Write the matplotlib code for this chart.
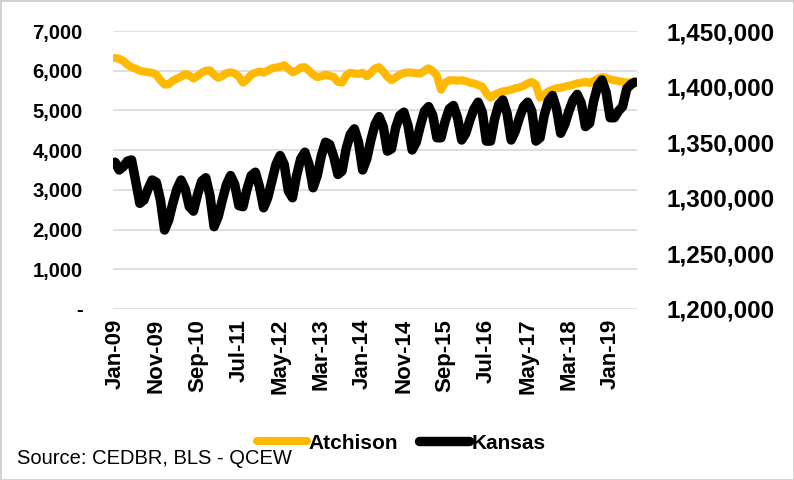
import numpy as np
import pandas as pd
import matplotlib.pyplot as plt
from matplotlib.ticker import FuncFormatter

plt.rcParams['font.family'] = ['Liberation Sans', 'DejaVu Sans']

# Monthly covered employment, Jan 2009 - Jul 2019
months = pd.date_range('2009-01-01', periods=127, freq='MS')

atchison = [
    6320, 6300, 6250, 6150, 6090, 6050, 6000, 5980, 5960, 5950, 5900, 5760,
    5650, 5660, 5750, 5800, 5850, 5920, 5880, 5800, 5870, 5950, 6000, 6010,
    5900, 5820, 5870, 5940, 5960, 5930, 5850, 5700, 5780, 5900, 5950, 5980,
    5950, 6000, 6060, 6080, 6100, 6140, 6050, 5960, 6000, 6080, 6090, 6000,
    5900, 5840, 5860, 5900, 5870, 5840, 5720, 5700, 5880, 5950, 5930, 5920,
    5950, 5860, 5950, 6060, 6090, 5980, 5850, 5760, 5830, 5900, 5940, 5960,
    5950, 5940, 5930, 6000, 6060, 5990, 5880, 5520, 5700, 5760, 5760, 5750,
    5760, 5740, 5700, 5680, 5640, 5600, 5430, 5320, 5400, 5440, 5480, 5500,
    5520, 5560, 5580, 5620, 5680, 5720, 5650, 5320, 5400, 5480, 5520, 5560,
    5570, 5600, 5620, 5650, 5680, 5700, 5720, 5690, 5740, 5800, 5840, 5820,
    5780, 5760, 5740, 5720, 5700, 5710, 5720,
]

kansas = [
    1332000, 1325000, 1328000, 1333000, 1334000, 1315000, 1295000, 1298000, 1308000, 1316000, 1314000, 1298000,
    1271000, 1280000, 1295000, 1308000, 1316000, 1308000, 1292000, 1288000, 1303000, 1315000, 1318000, 1302000,
    1274000, 1283000, 1298000, 1312000, 1320000, 1312000, 1293000, 1292000, 1308000, 1320000, 1323000, 1310000,
    1291000, 1300000, 1315000, 1330000, 1338000, 1330000, 1306000, 1300000, 1320000, 1335000, 1341000, 1330000,
    1309000, 1320000, 1338000, 1350000, 1348000, 1337000, 1321000, 1324000, 1344000, 1357000, 1362000, 1350000,
    1325000, 1335000, 1352000, 1366000, 1373000, 1364000, 1342000, 1344000, 1363000, 1374000, 1377000, 1365000,
    1343000, 1350000, 1365000, 1378000, 1382000, 1374000, 1354000, 1354000, 1369000, 1380000, 1383000, 1372000,
    1352000, 1358000, 1370000, 1380000, 1386000, 1377000, 1351000, 1351000, 1371000, 1384000, 1388000, 1376000,
    1352000, 1360000, 1372000, 1382000, 1386000, 1378000, 1351000, 1354000, 1374000, 1387000, 1392000, 1380000,
    1358000, 1366000, 1378000, 1388000, 1393000, 1385000, 1364000, 1367000, 1387000, 1401000, 1406000, 1395000,
    1372000, 1372000, 1378000, 1382000, 1398000, 1402000, 1404000,
]

left_ticks = [0, 1000, 2000, 3000, 4000, 5000, 6000, 7000]
right_ticks = [1200000, 1250000, 1300000, 1350000, 1400000, 1450000]
tick_step = 10

x = np.arange(len(months))

fig = plt.figure(figsize=(7.94, 4.8), dpi=100)
ax = fig.add_axes([0.1423, 0.3563, 0.66, 0.5791])
ax2 = ax.twinx()

ax.plot(x, atchison, color='#FFB900', lw=5.8, solid_capstyle='round',
        solid_joinstyle='round', label='Atchison')
ax2.plot(x, kansas, color='black', lw=6.8, solid_capstyle='round',
         solid_joinstyle='round', label='Kansas')

ax.set_xlim(-0.5, len(months) - 0.5)
ax.set_ylim(0, 7000)
ax2.set_ylim(1200000, 1450000)

ax.set_yticks(left_ticks)
ax.yaxis.set_major_formatter(FuncFormatter(lambda v, p: '-' if v == 0 else f'{int(v):,}'))
ax2.set_yticks(right_ticks)
ax2.yaxis.set_major_formatter(FuncFormatter(lambda v, p: f'{int(v):,}'))

ax.set_xticks(x[::tick_step])
ax.set_xticklabels([d.strftime('%b-%y') for d in months[::tick_step]],
                   rotation=90, fontsize=16, fontweight='bold')

ax.grid(axis='y', color='#D9D9D9', lw=1.2)
ax.set_axisbelow(True)
for a in (ax, ax2):
    for s in a.spines.values():
        s.set_visible(False)
    a.tick_params(length=0)
ax.tick_params(axis='y', labelsize=14.5, pad=22)
ax.tick_params(axis='x', pad=7)
ax2.tick_params(axis='y', labelsize=17.5, pad=21)
for lbl in ax.get_yticklabels() + ax2.get_yticklabels():
    lbl.set_fontweight('bold')

handles = ax.get_lines() + ax2.get_lines()
fig.legend(handles, [h.get_label() for h in handles], loc='center',
           bbox_to_anchor=(0.505, 0.077), ncol=2, frameon=False,
           handlelength=2.4, handletextpad=0.1, columnspacing=1.0,
           prop={'weight': 'bold', 'size': 15})

fig.text(0.022, 0.045, 'Source: CEDBR, BLS - QCEW', fontsize=14.5, va='center')

fig.patches.append(plt.Rectangle((0, 0), 1, 1, transform=fig.transFigure,
                                 fill=False, edgecolor='#D0D0D0', lw=2))

fig.savefig('out.png', dpi=100)
